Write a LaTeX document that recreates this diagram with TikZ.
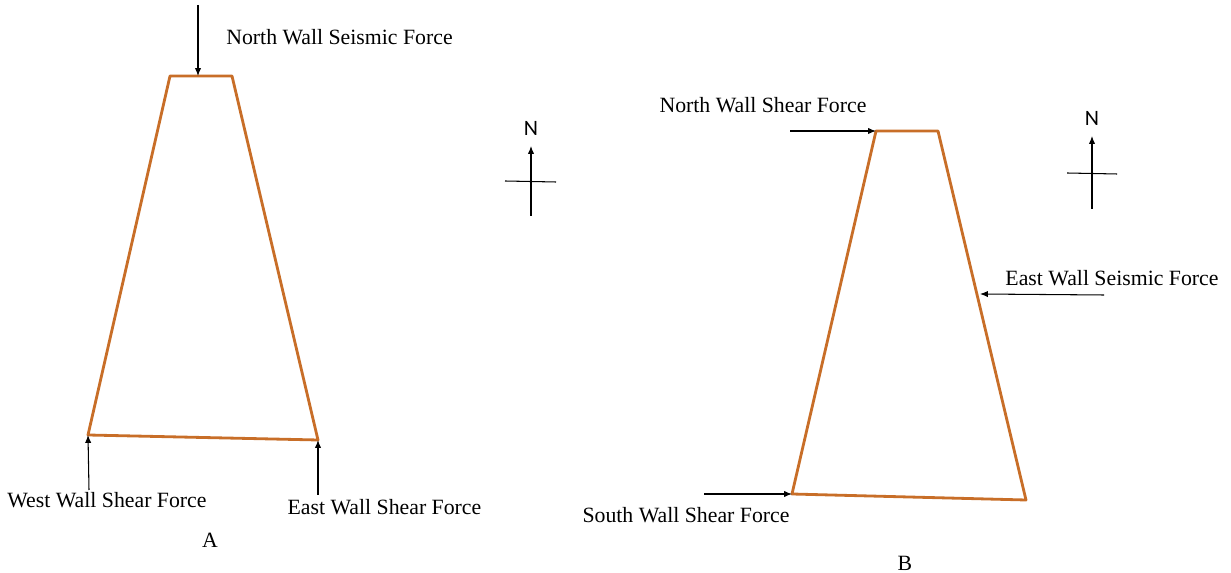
\documentclass[tikz,border=0pt]{standalone}
\usepackage{fontspec}
\setmainfont{Liberation Serif}
\newfontfamily\nfont{Carlito}
\usetikzlibrary{calc,arrows.meta}
\definecolor{wallbrown}{RGB}{200,110,40}

\tikzset{
  wall/.style={draw=wallbrown, line width=1.6pt, line join=round},
  force/.style={-{Latex[length=4.5pt,width=3.6pt]}, line width=0.6pt},
  lbl/.style={inner sep=0pt, font=\fontsize{12.4}{14}\selectfont},
  north/.style={inner sep=0pt, font=\nfont\fontsize{12.5}{14}\selectfont}
}

\begin{document}
\begin{tikzpicture}[x=0.02cm, y=-0.02cm]
    \useasboundingbox (0,0) rectangle (1231,573);
    % plan A
    \coordinate (a1) at (170,76);
    \coordinate (a2) at (232,76);
    \coordinate (a3) at (318,440);
    \coordinate (a4) at (88,435);
    \draw[wall] (a1) -- (a2) -- (a3) -- (a4) -- cycle;
    \coordinate (an) at (198,76);
    \coordinate (anf) at (198,5);
    \coordinate (awf) at (89,490);
    \coordinate (aef) at (318,495);
    \draw[force] (anf) -- (an);
    \draw[force] (awf) -- (a4);
    \draw[force] (aef) -- (a3);
    \node[lbl] (nseis) at (339.5,37) {North Wall Seismic Force};
    \node[lbl] (wshear) at (107,500) {West Wall Shear Force};
    \node[lbl] (eshear) at (384.5,507) {East Wall Shear Force};
    \node[lbl] (capa) at (210,540) {A};
    % compass A
    \node[north] (na) at (531,128) {N};
    \coordinate (cab) at (531,216);
    \coordinate (cat) at (531,146);
    \coordinate (cal) at (505,181);
    \coordinate (car) at (556,182);
    \draw[force] (cab) -- (cat);
    \draw[line width=0.6pt] (cal) -- (car);
    % plan B
    \coordinate (b1) at (876,131);
    \coordinate (b2) at (938,131);
    \coordinate (b3) at (1026,500);
    \coordinate (b4) at (792,494);
    \draw[wall] (b1) -- (b2) -- (b3) -- (b4) -- cycle;
    \coordinate (be) at (980,294);
    \coordinate (bnf) at (790,131);
    \coordinate (bef) at (1104,295);
    \coordinate (bsf) at (704,494);
    \draw[force] (bnf) -- (b1);
    \draw[force] (bef) -- (be);
    \draw[force] (bsf) -- (b4);
    \node[lbl] (nshear) at (763,105) {North Wall Shear Force};
    \node[lbl] (eseis) at (1112,278) {East Wall Seismic Force};
    \node[lbl] (sshear) at (686,515) {South Wall Shear Force};
    \node[lbl] (capb) at (905,563) {B};
    % compass B
    \node[north] (nb) at (1092,118) {N};
    \coordinate (cbb) at (1092,209);
    \coordinate (cbt) at (1092,136);
    \coordinate (cbl) at (1067,173);
    \coordinate (cbr) at (1117,174);
    \draw[force] (cbb) -- (cbt);
    \draw[line width=0.6pt] (cbl) -- (cbr);
\end{tikzpicture}
\end{document}
